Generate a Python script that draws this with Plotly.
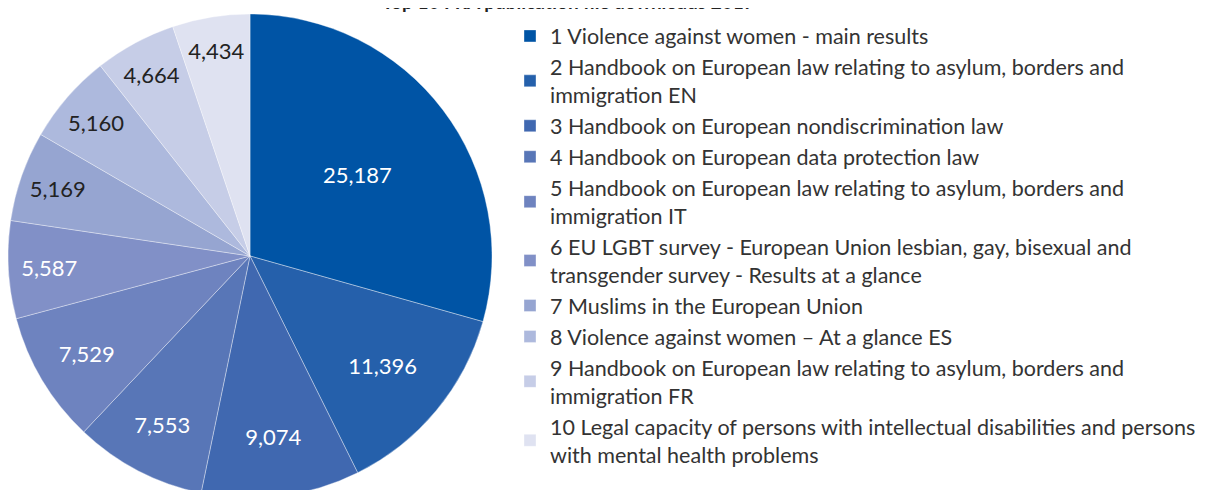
import plotly.graph_objects as go

labels = [
    "1 Violence against women - main results",
    "2 Handbook on European law relating to asylum, borders and<br>immigration EN",
    "3 Handbook on European nondiscrimination law",
    "4 Handbook on European data protection law",
    "5 Handbook on European law relating to asylum, borders and<br>immigration IT",
    "6 EU LGBT survey - European Union lesbian, gay, bisexual and<br>transgender survey - Results at a glance",
    "7 Muslims in the European Union",
    "8 Violence against women \u2013 At a glance ES",
    "9 Handbook on European law relating to asylum, borders and<br>immigration FR",
    "10 Legal capacity of persons with intellectual disabilities and persons<br>with mental health problems",
]
downloads = [25187, 11396, 9074, 7553, 7529, 5587, 5169, 5160, 4664, 4434]
colors = ["#0054a5", "#2560ab", "#4068b0", "#5876b7", "#6e83bf",
          "#8190c7", "#96a5d1", "#adb9dd", "#c6cde7", "#dfe2f1"]
text_colors = ["white"] * 6 + ["#222222"] * 4

W, H = 1208, 490
fig = go.Figure()
fig.add_trace(go.Pie(
    labels=labels,
    values=downloads,
    text=[f"{v:,}" for v in downloads],
    textinfo="text",
    textposition="inside",
    insidetextorientation="horizontal",
    textfont=dict(family="Lato", size=22, color=text_colors),
    marker=dict(colors=colors, line=dict(color="rgba(255,255,255,0.6)", width=0.6)),
    sort=False,
    direction="clockwise",
    rotation=0,
    domain=dict(x=[0, 484 / W], y=[0, 1]),
    hoverinfo="label+value",
))

# title is cut off at the top edge in the original
fig.add_annotation(
    text="<b>Top 10 FRA publication file downloads 2017</b>",
    xref="paper", yref="paper", x=560 / W, y=1 - 1 / 484,
    xanchor="center", yanchor="bottom", showarrow=False,
    font=dict(family="Lato", size=19, color="#222222"),
)

fig.update_layout(
    width=W, height=H,
    margin=dict(l=0, r=0, t=6, b=0),
    paper_bgcolor="white",
    plot_bgcolor="white",
    font=dict(family="Lato", color="#333333"),
    legend=dict(
        x=502 / W, y=0.997, xanchor="left", yanchor="top",
        font=dict(family="Lato", size=21.5, color="#333333"),
        itemclick=False,
    ),
)

fig.write_html("out.html")
